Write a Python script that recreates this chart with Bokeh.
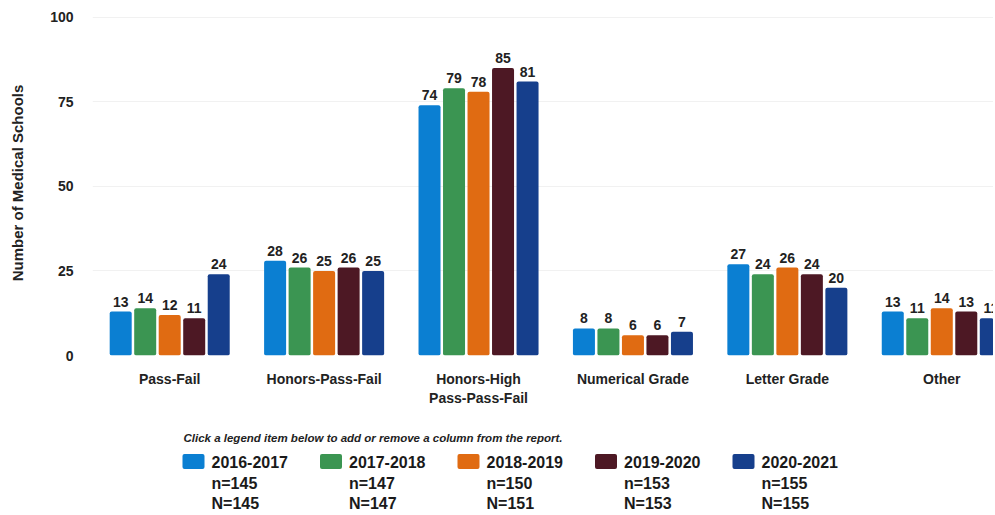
from bokeh.plotting import figure
from bokeh.models import Range1d, FixedTicker, ColumnDataSource
from bokeh.layouts import column
from bokeh.core.properties import value
from bokeh.embed import file_html
from bokeh.resources import INLINE

# ---- data ----
categories = ["Pass-Fail", "Honors-Pass-Fail", "Honors-High\nPass-Pass-Fail",
              "Numerical Grade", "Letter Grade", "Other"]
series = ["2016-2017", "2017-2018", "2018-2019", "2019-2020", "2020-2021"]
n_values = ["n=145", "n=147", "n=150", "n=153", "n=155"]
N_values = ["N=145", "N=147", "N=151", "N=153", "N=155"]
vals_2016_2017 = [13, 28, 74, 8, 27, 13]
vals_2017_2018 = [14, 26, 79, 8, 24, 11]
vals_2018_2019 = [12, 25, 78, 6, 26, 14]
vals_2019_2020 = [11, 26, 85, 6, 24, 13]
vals_2020_2021 = [24, 25, 81, 7, 20, 11]
y_ticks = [0, 25, 50, 75, 100]
legend_note = "Click a legend item below to add or remove a column from the report."

all_vals = [vals_2016_2017, vals_2017_2018, vals_2018_2019, vals_2019_2020, vals_2020_2021]
colors = ["#0b7fd2", "#3b9552", "#e06b12", "#4d1824", "#163f8c"]

FONT = "Liberation Sans"
LEFT = 92
FW = 901

p = figure(frame_width=FW, frame_height=345, output_backend="svg", toolbar_location=None,
           x_range=Range1d(-0.5, 5.335), y_range=Range1d(0, 102),
           min_border_left=LEFT, min_border_top=10, min_border_right=0,
           min_border_bottom=55)
p.outline_line_color = None
p.background_fill_color = "white"

step = 0.1587
bw = 0.1425
for i, (vals, col) in enumerate(zip(all_vals, colors)):
    xs = [k + (i - 2) * step for k in range(len(categories))]
    src = ColumnDataSource(dict(x=xs, top=vals, lab=[str(v) for v in vals]))
    p.vbar(x="x", top="top", width=bw, source=src, fill_color=col,
           line_color=None, border_radius=2)
    p.text(x="x", y="top", text="lab", source=src, text_align="center",
           text_baseline="bottom", y_offset=-5, text_font=value(FONT),
           text_font_size="14px", text_font_style="bold", text_color="#222222")

p.xaxis.ticker = FixedTicker(ticks=list(range(len(categories))))
p.xaxis.major_label_overrides = {i: c for i, c in enumerate(categories)}
p.xaxis.axis_line_color = None
p.xaxis.major_tick_line_color = None
p.xaxis.minor_tick_line_color = None
p.xaxis.major_tick_out = 0
p.xaxis.major_tick_in = 0
p.xaxis.major_label_text_font = FONT
p.xaxis.major_label_text_font_size = "14px"
p.xaxis.major_label_text_font_style = "bold"
p.xaxis.major_label_text_color = "#222222"
p.xaxis.major_label_standoff = 15

p.yaxis.ticker = FixedTicker(ticks=y_ticks)
p.yaxis.axis_line_color = None
p.yaxis.major_tick_line_color = None
p.yaxis.minor_tick_line_color = None
p.yaxis.major_tick_out = 0
p.yaxis.major_tick_in = 0
p.yaxis.major_label_text_font = FONT
p.yaxis.major_label_text_font_size = "14px"
p.yaxis.major_label_text_font_style = "bold"
p.yaxis.major_label_text_color = "#222222"
p.yaxis.major_label_standoff = 19
p.yaxis.axis_label = "Number of Medical Schools"
p.yaxis.axis_label_text_font = FONT
p.yaxis.axis_label_text_font_size = "15px"
p.yaxis.axis_label_text_font_style = "bold"
p.yaxis.axis_label_text_color = "#222222"
p.yaxis.axis_label_standoff = 21

p.xgrid.grid_line_color = None
p.ygrid.grid_line_color = "#f1f1f1"

# ---- legend panel (x measured from the chart frame's left edge) ----
lg = figure(frame_width=FW, frame_height=105, output_backend="svg", toolbar_location=None,
            x_range=Range1d(0, FW), y_range=Range1d(105, 0),
            min_border_left=LEFT, min_border_right=0, min_border_top=0,
            min_border_bottom=0)
lg.axis.visible = False
lg.grid.grid_line_color = None
lg.outline_line_color = None

lg.text(x=[91], y=[27], text=[legend_note], text_font=value(FONT),
        text_font_size="11.5px", text_font_style="bold italic",
        text_baseline="middle", text_color="#222222")

x0 = 90
dx = 137.5
sw_x = [x0 + i * dx + 11 for i in range(len(series))]
txt_x = [x0 + i * dx + 29 for i in range(len(series))]
lg.rect(x=sw_x, y=[51] * len(series), width=22, height=15, fill_color=colors,
        line_color=None, border_radius=2)
for lines, yy in ((series, 51), (n_values, 73), (N_values, 93)):
    lg.text(x=txt_x, y=[yy] * len(series), text=lines, text_font=value(FONT),
            text_font_size="16px", text_font_style="bold",
            text_baseline="middle", text_color="#1a1a1a")

layout = column(p, lg, spacing=0)
open("out.html", "w").write(file_html(layout, INLINE))
